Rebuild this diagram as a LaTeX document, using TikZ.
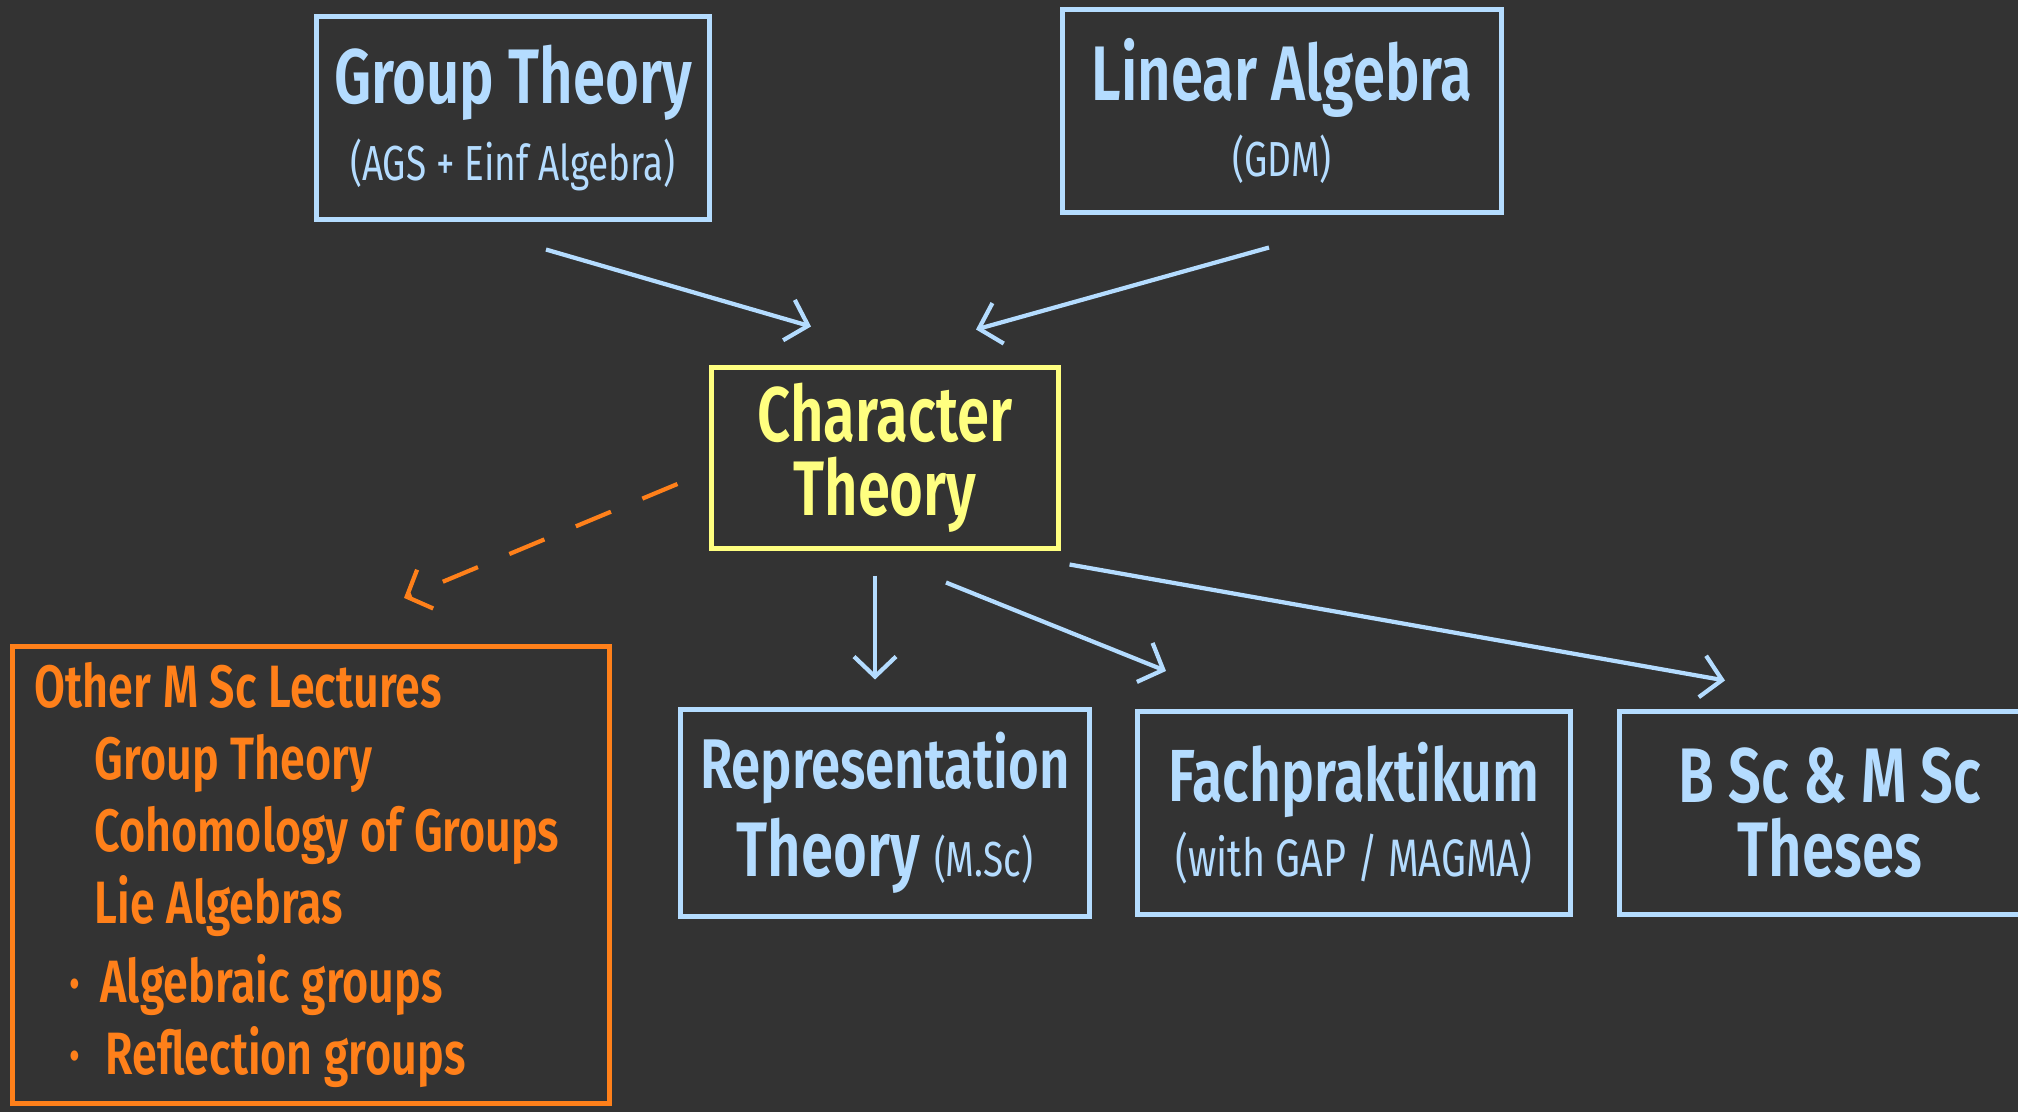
\documentclass[tikz,border=0pt]{standalone}
\usepackage{fontspec}
\setmainfont{Fira Sans}[FakeStretch=0.75, BoldFont={Fira Sans SemiBold}]
\usetikzlibrary{arrows.meta}

\definecolor{board}{HTML}{333333}
\definecolor{skyblue}{HTML}{B4DCFF}
\definecolor{lemon}{HTML}{FFFF80}
\definecolor{tangerine}{HTML}{FF801A}

\newcommand{\bigtxt}{\fontsize{22}{26}\selectfont\bfseries}
\newcommand{\smalltxt}{\fontsize{14}{17}\selectfont\mdseries}

\tikzset{
 box/.style={draw=skyblue, text=skyblue, line width=1.4pt, align=center, inner sep=0pt},
 arr/.style={draw=skyblue, line width=1.2pt, -{Straight Barb[length=0.2cm,width=0.42cm]}},
}

\begin{document}
\begin{tikzpicture}[x=0.01cm,y=-0.01cm]
 \fill[board] (0,0) rectangle (2018,1112);
 \useasboundingbox (0,0) rectangle (2018,1112);

 % prerequisites
 \node[box, minimum width=3.92cm, minimum height=2.02cm] (gt) at (513,118)
  {\bigtxt Group Theory\\[4pt] \smalltxt (AGS + Einf Algebra)};
 \node[box, minimum width=4.39cm, minimum height=2.02cm] (la) at (1282,111)
  {\bigtxt Linear Algebra\\[4pt] \smalltxt (GDM)};

 % the course
 \node[box, draw=lemon, text=lemon, minimum width=3.46cm, minimum height=1.80cm] (ct) at (885,458)
  {\bigtxt Character\\[3pt] \bigtxt Theory};

 % what comes after
 \node[box, minimum width=4.09cm, minimum height=2.06cm] (rep) at (885,813)
  {\fontsize{20}{24}\selectfont\bfseries Representation\\[3pt] \bigtxt Theory {\smalltxt (M.Sc)}};
 \node[box, minimum width=4.33cm, minimum height=2.03cm] (fach) at (1354,813)
  {\fontsize{21}{25}\selectfont\bfseries Fachpraktikum\\[3pt] \fontsize{15}{18}\selectfont\mdseries (with GAP / MAGMA)};
 \node[box, minimum width=4.20cm, minimum height=2.02cm] (thes) at (1830,813)
  {\bigtxt B Sc \& M Sc\\[3pt] \bigtxt Theses};

 \node[box, draw=tangerine, text=tangerine, align=left, text width=5.52cm,
  minimum width=5.96cm, minimum height=4.57cm] (other) at (311,875)
  {\fontsize{17}{20.5}\selectfont\bfseries
   Other M Sc Lectures\\
   \hspace*{0.6cm}Group Theory\\
   \hspace*{0.6cm}Cohomology of Groups\\
   \hspace*{0.6cm}Lie Algebras\\[2pt]
   \hspace*{0.35cm}·\hspace{0.2cm}Algebraic groups\\[2pt]
   \hspace*{0.35cm}·\hspace{0.25cm}Reflection groups};

 \draw[arr] ([shift={(33,28)}]gt.south) -- ([shift={(-74,-39)}]ct.north);
 \draw[arr] ([shift={(-13,33)}]la.south) -- ([shift={(91,-36)}]ct.north);
 \draw[arr, draw=tangerine, dash pattern=on 0.38cm off 0.34cm]
  ([shift={(-32,26)}]ct.west) -- ([shift={(93,-46)}]other.north);
 \draw[arr] ([shift={(-10,25)}]ct.south) -- ([shift={(-10,-28)}]rep.north);
 \draw[arr] ([shift={(61,32)}]ct.south) -- ([shift={(-188,-38)}]fach.north);
 \draw[arr] ([shift={(9,14)}]ct.south east) -- ([shift={(-105,-29)}]thes.north);
\end{tikzpicture}
\end{document}
